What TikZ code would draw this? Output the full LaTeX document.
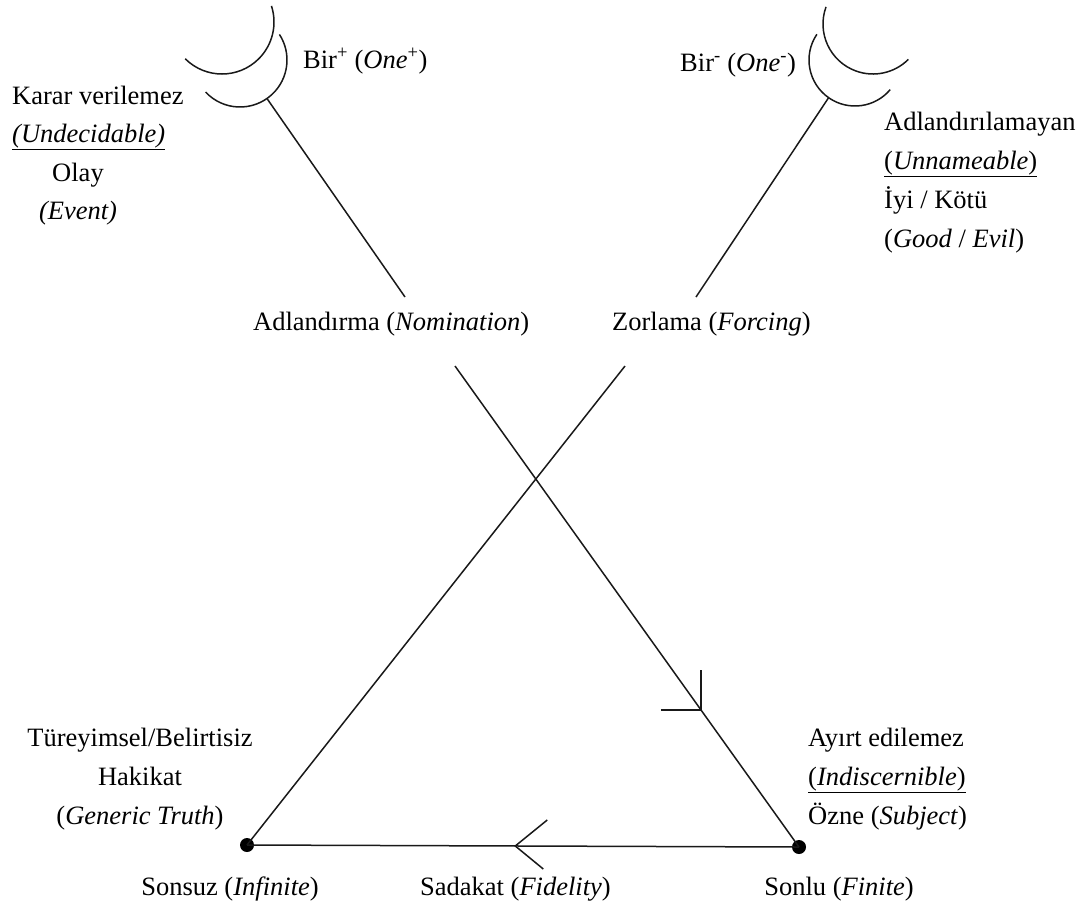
\documentclass[tikz,border=0pt]{standalone}
\usepackage{fontspec}
\setmainfont{Liberation Serif}
\usetikzlibrary{calc}
\begin{document}
\begin{tikzpicture}[x=1pt,y=-1pt,
  ln/.style={line width=1.5pt, black!90},
  arc/.style={line width=1.5pt, black!90},
  dot/.style={circle, fill=black, inner sep=0pt, minimum size=14pt},
  lbl/.style={font=\fontsize{26.5}{30}\selectfont, inner sep=0pt, anchor=base},
  lblw/.style={lbl, anchor=base west}]
\useasboundingbox (0,0) rectangle (1078,914);

% crescents
\draw[arc] (222,22) ++(135:52) arc[start angle=135, end angle=-18, radius=52];
\draw[arc] (240,60) ++(137:47) arc[start angle=137, end angle=-33, radius=47];
\draw[arc] (873,24) ++(200:50) arc[start angle=200, end angle=45, radius=50];
\draw[arc] (855,60) ++(214:46) arc[start angle=214, end angle=40, radius=46];

% coordinates
\coordinate (cl) at ($(240,60)+(55:47)$);
\coordinate (cr) at ($(855,60)+(125:46)$);
\coordinate (nomT) at (405,297);
\coordinate (forT) at (696,297);
\coordinate (nomB) at (455,366);
\coordinate (forB) at (625,366);
\node[dot] (inf) at (247,845) {};
\node[dot] (fin) at (799,847) {};

% lines
\draw[ln] (cl) -- (nomT);
\draw[ln] (cr) -- (forT);
\draw[ln] (nomB) -- (fin.center);
\draw[ln] (forB) -- (inf.center);
\draw[ln] (fin.center) -- (inf.center);

% arrow marks
\coordinate (arA) at ($(nomB)!0.715!(fin.center)$);
\draw[ln] ($(arA)+(-40,0)$) -- (arA) -- ++(0,-40);
\coordinate (arB) at ($(fin.center)!0.514!(inf.center)$);
\draw[ln] ($(arB)+(32,-26)$) -- (arB) -- ++(28,23);

% top labels
\node[lblw] (birp) at (303,68) {Bir\textsuperscript{+} (\textit{One}\textsuperscript{+})};
\node[lblw] (birm) at (680,71) {Bir\textsuperscript{-} (\textit{One}\textsuperscript{-})};

\node[lblw] (kv) at (12,104) {Karar verilemez};
\node[lblw] (und) at (12,142) {\underline{\textit{(Undecidable)}}};
\node[lbl] (olay) at (78,181) {Olay};
\node[lbl] (evt) at (78,219) {\textit{(Event)}};

\node[lblw] (adl) at (884,130) {Adlandırılamayan};
\node[lblw] (unn) at (884,169) {\underline{(\textit{Unnameable})}};
\node[lblw] (iyi) at (884,208) {İyi / Kötü};
\node[lblw] (ge) at (884,247) {(\textit{Good} / \textit{Evil})};

\node[lblw] (nom) at (253,330) {Adlandırma (\textit{Nomination})};
\node[lblw] (for) at (612,330) {Zorlama (\textit{Forcing})};

% bottom labels
\node[lbl] (tb) at (140,746) {Türeyimsel/Belirtisiz};
\node[lbl] (hk) at (140,785) {Hakikat};
\node[lbl] (gt) at (140,824) {(\textit{Generic Truth})};

\node[lblw] (ae) at (808,746) {Ayırt edilemez};
\node[lblw] (ind) at (808,785) {\underline{(\textit{Indiscernible})}};
\node[lblw] (oz) at (808,824) {Özne (\textit{Subject})};

\node[lbl] (son) at (230,895) {Sonsuz (\textit{Infinite})};
\node[lblw] (sad) at (420,895) {Sadakat (\textit{Fidelity})};
\node[lbl] (snl) at (839,895) {Sonlu (\textit{Finite})};
\end{tikzpicture}
\end{document}
